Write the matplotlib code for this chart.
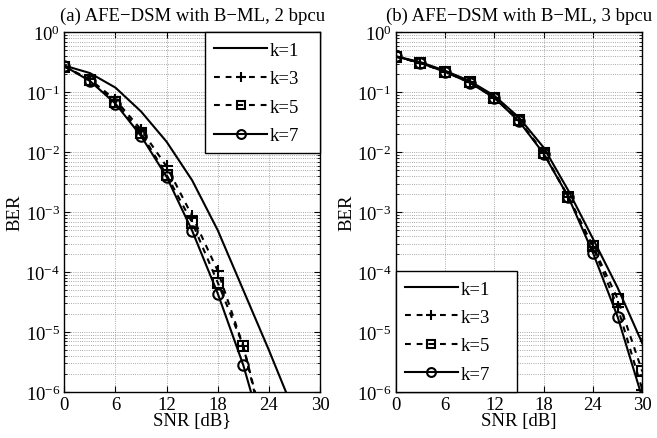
import matplotlib
matplotlib.use("Agg")
import matplotlib.pyplot as plt
from matplotlib.ticker import FixedLocator, NullFormatter, LogFormatterSciNotation

plt.rcParams['font.family'] = ['Liberation Serif', 'DejaVu Serif']
plt.rcParams['mathtext.fontset'] = 'custom'
plt.rcParams['mathtext.rm'] = 'Liberation Serif'
plt.rcParams['mathtext.it'] = 'Liberation Serif:italic'
plt.rcParams['axes.unicode_minus'] = True

snr = [0, 3, 6, 9, 12, 15, 18, 21, 24, 27, 30]

# (a) 2 bpcu
a_k1 = [0.28, 0.21, 0.12, 0.048, 0.015, 3.4e-3, 5.0e-4, 5.0e-5, 5.0e-6, 4.5e-7, 4e-8]
a_k3 = [0.27, 0.165, 0.075, 0.024, 5.8e-3, 8.7e-4, 1.05e-4, 5.8e-6, 1.0e-7, None, None]
a_k5 = [0.27, 0.16, 0.068, 0.021, 4.2e-3, 6.7e-4, 6.7e-5, 5.9e-6, 1.2e-7, None, None]
a_k7 = [0.275, 0.155, 0.065, 0.0187, 3.9e-3, 4.9e-4, 4.4e-5, 2.8e-6, 9.0e-8, None, None]

# (b) 3 bpcu
b_k1 = [0.40, 0.32, 0.23, 0.155, 0.088, 0.038, 0.012, 2.3e-3, 3.6e-4, 5.5e-5, 6.5e-6]
b_k3 = [0.395, 0.31, 0.222, 0.147, 0.082, 0.034, 0.0098, 1.8e-3, 2.6e-4, 2.6e-5, 1.1e-6]
b_k5 = [0.395, 0.31, 0.222, 0.147, 0.082, 0.034, 0.0098, 1.8e-3, 2.7e-4, 3.6e-5, 2.2e-6]
b_k7 = [0.40, 0.31, 0.22, 0.145, 0.081, 0.033, 0.0095, 1.8e-3, 2.1e-4, 1.8e-5, 8.0e-7]

labels = ['k=1', 'k=3', 'k=5', 'k=7']
titles = ['(a) AFE\u2212DSM with B\u2212ML, 2 bpcu', '(b) AFE\u2212DSM with B\u2212ML, 3 bpcu']
xlabels = ['SNR [dB}', 'SNR [dB]']
xticks = [0, 6, 12, 18, 24, 30]
yticks = [1e-6, 1e-5, 1e-4, 1e-3, 1e-2, 1e-1, 1e0]
yminor = [m * d for d in yticks[:-1] for m in range(2, 10)]

fig = plt.figure(figsize=(6.57, 4.39), dpi=100)
axA = fig.add_axes([0.0979, 0.1048, 0.3892, 0.8190])
axB = fig.add_axes([0.6023, 0.1048, 0.3753, 0.8190])

dash = (2.8, 2.8)
FS = 13.5

def clean(x, y):
    xs, ys = [], []
    for a, b in zip(x, y):
        if b is not None:
            xs.append(a); ys.append(b)
    return xs, ys

def draw(ax, series, title, xlabel, legbbox):
    lw = 1.5
    x, y = clean(snr, series[0])
    ax.semilogy(x, y, '-', color='k', lw=lw, label=labels[0])
    x, y = clean(snr, series[1])
    ax.semilogy(x, y, '--', color='k', lw=lw, dashes=dash, marker='+', ms=9, mew=1.5, label=labels[1])
    x, y = clean(snr, series[2])
    ax.semilogy(x, y, '--', color='k', lw=lw, dashes=dash, marker='s', ms=6.5, mfc='none', mew=1.5, label=labels[2])
    x, y = clean(snr, series[3])
    ax.semilogy(x, y, '-', color='k', lw=lw, marker='o', ms=7.5, mfc='none', mew=1.5, label=labels[3])
    ax.set_xlim(0, 30)
    ax.set_ylim(1e-6, 1)
    ax.xaxis.set_major_locator(FixedLocator(xticks))
    ax.yaxis.set_major_locator(FixedLocator(yticks))
    ax.yaxis.set_major_formatter(LogFormatterSciNotation())
    ax.yaxis.set_minor_locator(FixedLocator(yminor))
    ax.yaxis.set_minor_formatter(NullFormatter())
    ax.grid(True, which='major', axis='both', ls=':', color='0.55', lw=0.6)
    ax.grid(True, which='minor', axis='y', ls=':', color='0.55', lw=0.6)
    ax.tick_params(which='both', direction='in', top=True, right=True, labelsize=FS, pad=3)
    ax.tick_params(which='major', length=4)
    ax.tick_params(which='minor', length=2)
    for s in ax.spines.values():
        s.set_linewidth(1.0)
    ax.set_title(title, fontsize=FS, pad=9)
    ax.set_xlabel(xlabel, fontsize=FS, labelpad=-1)
    ax.set_ylabel('BER', fontsize=FS)
    leg = ax.legend(loc='upper left', bbox_to_anchor=legbbox, mode='expand', borderaxespad=0,
                    fontsize=FS, handlelength=2.8, handletextpad=0.15, labelspacing=0.6,
                    borderpad=0.5, fancybox=False, framealpha=1, edgecolor='k', markerscale=0.85)
    leg.get_frame().set_linewidth(1.0)

draw(axA, [a_k1, a_k3, a_k5, a_k7], titles[0], xlabels[0], (0.550, 0.671, 0.450, 0.329))
draw(axB, [b_k1, b_k3, b_k5, b_k7], titles[1], xlabels[1], (0.0, 0.0, 0.491, 0.336))
axA.yaxis.set_label_coords(-0.16, 0.5)
axB.yaxis.set_label_coords(-0.165, 0.5)

fig.savefig('out.png', dpi=100)
